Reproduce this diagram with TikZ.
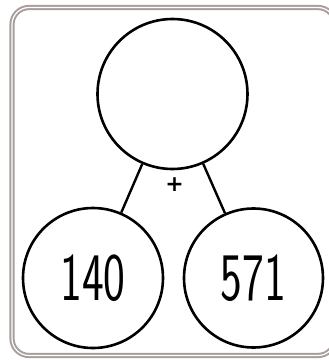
\documentclass[tikz,border=0pt]{standalone}
\usepackage{fontspec}
\newfontfamily\plusfont{DejaVu Sans}
\definecolor{framegray}{HTML}{A89C9C}
\begin{document}
\begin{tikzpicture}[x=1pt,y=-1pt,
  bubble/.style={circle,draw=black,line width=2.6pt,inner sep=0pt,
    font=\sffamily\fontsize{68}{68}\selectfont},
  link/.style={line width=2.4pt,black},
  frame/.style={draw=framegray,line width=2pt,double=white,double distance=1.2pt,rounded corners=17pt}]
\useasboundingbox (0,0) rectangle (329,360);
\draw[frame] (12,7.5) rectangle (335,355.5);
\node[bubble,minimum size=150pt] (top) at (172.5,94) {};
\node[bubble,minimum size=140pt] (L) at (93,278) {\scalebox{0.68}[1]{140}};
\node[bubble,minimum size=139pt] (R) at (253.5,278) {\scalebox{0.68}[1]{571}};
\draw[link] (top) -- (L);
\draw[link] (top) -- (R);
\node[font=\plusfont\bfseries\fontsize{22}{22}\selectfont,inner sep=0pt] (plus) at (174.5,184.5) {+};
\end{tikzpicture}
\end{document}
